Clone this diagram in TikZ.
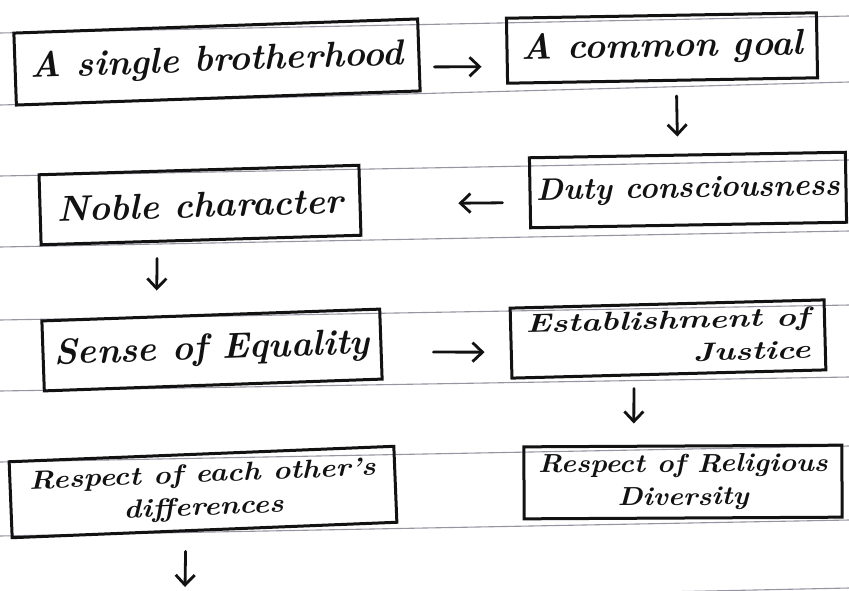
\documentclass[tikz,border=0pt]{standalone}
\usetikzlibrary{arrows.meta,calc}
\definecolor{ink}{RGB}{18,18,18}
\definecolor{rule}{RGB}{150,150,162}
\tikzset{
  box/.style={draw=ink, line width=3pt, inner sep=2pt, text=ink},
  arr/.style={draw=ink, line width=2.8pt, line cap=round, -{Straight Barb[length=10pt,width=19pt,line width=2.8pt]}},
  ruleline/.style={draw=rule, line width=1.1pt},
  one/.style={font=\fontsize{36}{40}\selectfont\bfseries\itshape},
  two/.style={font=\fontsize{26}{33}\selectfont\bfseries\itshape}
}
\begin{document}
\begin{tikzpicture}[x=1pt,y=-1pt]
\useasboundingbox (0,0) rectangle (849,590);
\fill[white] (0,0) rectangle (849,590);
% ruled paper
\foreach \l/\r in {33/16,105/82,176/160,247/231,320/305,391/377,462/446,536/520,606/588}
  \draw[ruleline] (0,\l) -- (849,\r);
% boxes
\node[box,one,minimum width=404pt,minimum height=72pt,rotate=2] (b1) at (217,62) {A single brotherhood};
\node[box,one,minimum width=310pt,minimum height=65pt,rotate=1] (b2) at (662,48) {A common goal};
\node[box,one,font=\fontsize{31}{36}\selectfont\bfseries\itshape,minimum width=316pt,minimum height=70pt,rotate=1] (b3) at (688,190) {Duty consciousness};
\node[box,one,minimum width=320pt,minimum height=70pt,rotate=1.7] (b4) at (200,205) {Noble character};
\node[box,one,minimum width=338pt,minimum height=70pt,rotate=2] (b5) at (212,350) {Sense of Equality};
\node[box,two,minimum width=314pt,minimum height=70pt,rotate=1.5] (b6) at (668,339)
  {\scalebox{1.3}[1]{\begin{tabular}{@{}r@{}}Establishment of\\Justice\end{tabular}}};
\node[box,two,minimum width=385pt,minimum height=76pt,rotate=2.3] (b7) at (203,492)
  {\scalebox{1.15}[1]{\begin{tabular}{@{}c@{}}Respect of each other's\\differences\end{tabular}}};
\node[box,two,minimum width=318pt,minimum height=72pt,rotate=0.3] (b8) at (683,482)
  {\scalebox{1.1}[1]{\begin{tabular}{@{}c@{}}Respect of Religious\\Diversity\end{tabular}}};
\coordinate (end7) at (185,587);
% connectors
\draw[arr] ($(b1.east)+(14,12)$) -- ($(b2.west)+(-24,16)$);
\draw[arr] ($(b2.south)+(14,14)$) -- ($(b3.north)+(-10,-17)$);
\draw[arr] ($(b3.west)+(-26,10)$) -- ($(b4.east)+(97,3)$);
\draw[arr] ($(b4.south)+(-44,17)$) -- ($(b5.north)+(-54,-23)$);
\draw[arr] ($(b5.east)+(51,8)$) -- ($(b6.west)+(-25,9)$);
\draw[arr] ($(b6.south)+(-35,13)$) -- ($(b8.north)+(-49,-21)$);
\draw[arr] ($(b7.south)+(-19,20)$) -- (end7);
\end{tikzpicture}
\end{document}
